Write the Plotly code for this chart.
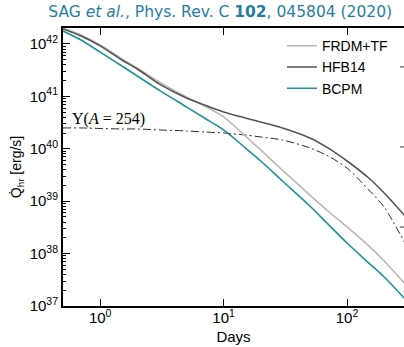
import plotly.graph_objects as go

# ---- data ----
days = [0.5, 0.7, 1, 1.5, 2, 3, 5, 7, 10, 15, 20, 30, 50, 70, 100, 150, 200, 300]
frdm_tf = [2.02e42, 1.49e42, 9.6e41, 5.2e41, 3.48e41, 1.88e41, 9.7e40, 6.6e40, 4.05e40,
           1.75e40, 9.5e39, 3.9e39, 1.31e39, 6.5e38, 3.22e38, 1.40e38, 7.2e37, 2.52e37]
hfb14 = [1.93e42, 1.42e42, 9.2e41, 4.95e41, 3.33e41, 1.73e41, 9.3e40, 6.85e40, 5.04e40,
         3.87e40, 3.25e40, 2.50e40, 1.61e40, 1.04e40, 5.85e39, 2.77e39, 1.43e39, 4.99e38]
bcpm = [1.77e42, 1.19e42, 7.0e41, 3.8e41, 2.45e41, 1.32e41, 6.3e40, 3.87e40, 2.29e40,
        1.04e40, 5.85e39, 2.43e39, 8.1e38, 3.67e38, 1.59e38, 6.6e37, 3.57e37, 1.30e37]
y_a254 = [2.50e40, 2.50e40, 2.44e40, 2.39e40, 2.39e40, 2.29e40, 2.19e40, 2.09e40, 2.00e40,
          1.83e40, 1.68e40, 1.47e40, 1.04e40, 7.3e39, 4.3e39, 1.64e39, 7.7e38, 1.46e38]

x_tickvals = [1, 10, 100]
x_ticktext = ["10<sup>0</sup>", "10<sup>1</sup>", "10<sup>2</sup>"]
y_exps = [37, 38, 39, 40, 41, 42]
y_tickvals = [10.0 ** e for e in y_exps]
y_ticktext = ["10<sup>%d</sup>" % e for e in y_exps]
y_minor = [k * 10.0 ** e for e in y_exps[:-1] for k in range(2, 10)]

title_text = "SAG <i>et al.</i>, Phys. Rev. C <b>102</b>, 045804 (2020)"
label_text = "Y(<i>A</i> = 254)"

SANS = "Liberation Sans, Arial, sans-serif"

fig = go.Figure()
fig.add_trace(go.Scatter(x=days, y=y_a254, mode="lines", showlegend=False,
                         line=dict(color="#2b2b2b", width=1, dash="8px,3px,2px,3px", shape="spline",
                                   smoothing=0.8)))
fig.add_trace(go.Scatter(x=days, y=frdm_tf, mode="lines", name="FRDM+TF",
                         line=dict(color="#b8b8b8", width=1.6, shape="spline", smoothing=0.8)))
fig.add_trace(go.Scatter(x=days, y=hfb14, mode="lines", name="HFB14",
                         line=dict(color="#555555", width=1.6, shape="spline", smoothing=0.8)))
fig.add_trace(go.Scatter(x=days, y=bcpm, mode="lines", name="BCPM",
                         line=dict(color="#1a9494", width=1.6, shape="spline", smoothing=0.8)))

fig.update_layout(
    width=404, height=347,
    margin=dict(l=63, r=0, t=28, b=41),
    paper_bgcolor="white", plot_bgcolor="white",
    font=dict(family=SANS, size=15, color="black"),
    title=dict(text=title_text, x=0.545, xanchor="center", y=0.966, yanchor="middle",
               font=dict(family="DejaVu Sans, sans-serif", size=15.5, color="#1f7fa0")),
    legend=dict(x=0.642, xanchor="left", y=0.992, yanchor="top", bgcolor="rgba(0,0,0,0)",
                font=dict(family=SANS, size=14), tracegroupgap=0, itemwidth=30),
    xaxis=dict(type="log", range=[-0.301, 2.4615], showline=True, linewidth=2, linecolor="black",
               mirror="ticks", ticks="inside", ticklen=7, tickwidth=1.2, tickcolor="black",
               tickmode="array", tickvals=x_tickvals, ticktext=x_ticktext, ticklabelstandoff=-3,
               showgrid=False, zeroline=False,
               title=dict(text="Days", standoff=6, font=dict(size=15))),
    yaxis=dict(type="log", range=[37, 42.305], showline=True, linewidth=2, linecolor="black",
               mirror=False, ticks="inside", ticklen=7, tickwidth=1.2, tickcolor="black",
               tickmode="array", tickvals=y_tickvals, ticktext=y_ticktext,
               minor=dict(tickmode="array", tickvals=y_minor, ticks="inside", ticklen=3,
                          tickcolor="black", tickwidth=1, showgrid=False),
               showgrid=False, zeroline=False,
               title=dict(text="Q\u0307<sub>hr</sub> [erg/s]", standoff=5, font=dict(size=14))),
    annotations=[dict(text=label_text, xref="x", yref="y", x=-0.243, y=40.569,
                      xanchor="left", yanchor="middle", showarrow=False,
                      font=dict(family="Liberation Serif, serif", size=16, color="black"))],
    shapes=[dict(type="line", xref="paper", yref="paper", x0=0.988, x1=1.0, y0=yy, y1=yy,
                 line=dict(color="#333333", width=1)) for yy in (0.860, 0.572, 0.284)],
)

fig.write_html("out.html")
